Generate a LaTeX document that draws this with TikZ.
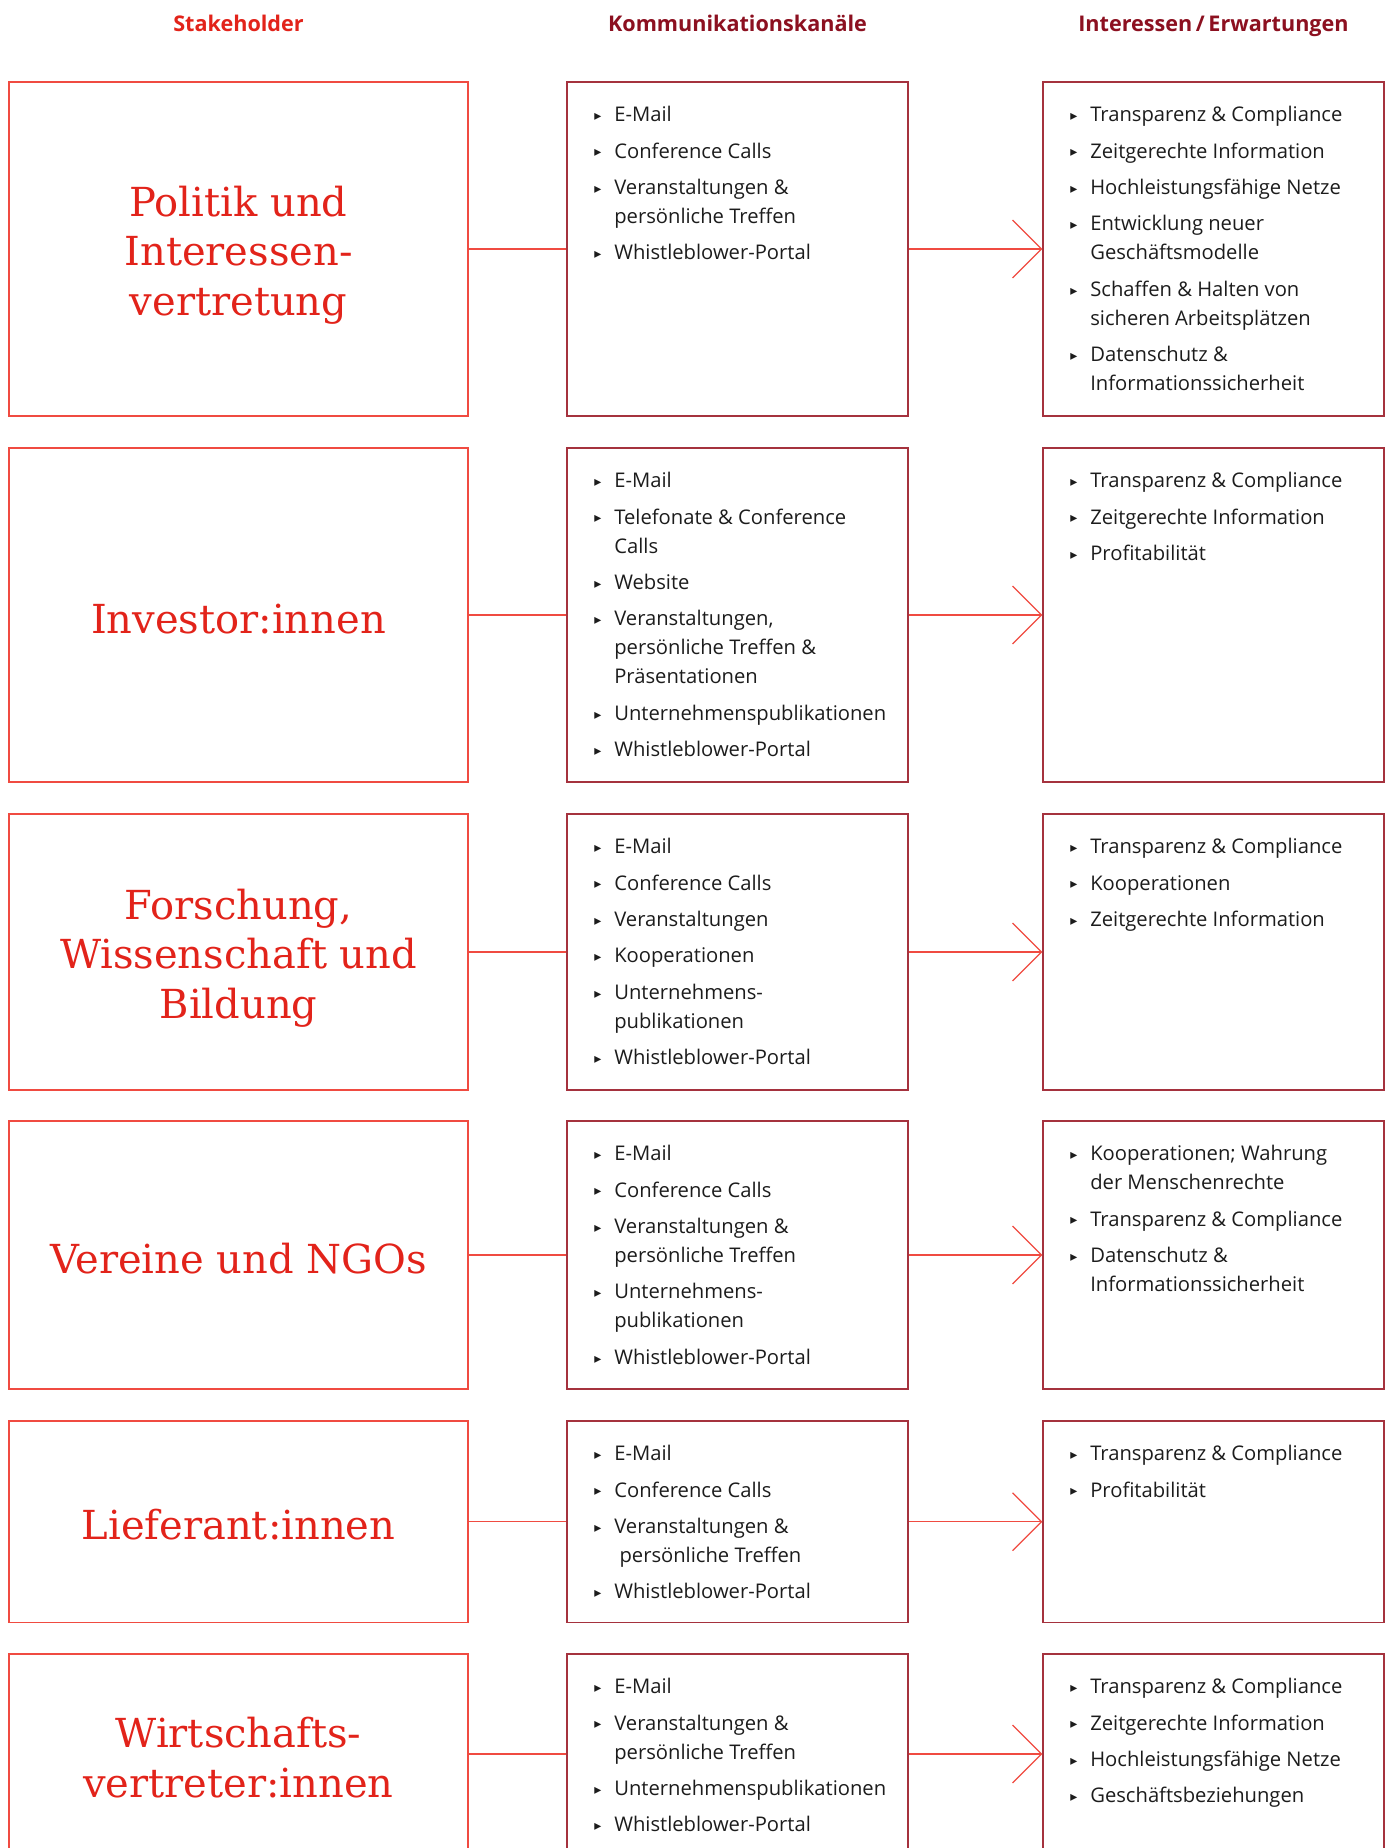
\documentclass[tikz,border=0pt]{standalone}
\usepackage{fontspec}
\setmainfont{Open Sans}
\newfontfamily\slabfont{DejaVu Serif}
\newfontfamily\symfont{DejaVu Sans}
\usetikzlibrary{positioning,arrows.meta}
\definecolor{StakeRed}{RGB}{226,35,26}
\definecolor{LineRed}{RGB}{240,75,65}
\definecolor{BoxRed}{RGB}{165,50,62}
\definecolor{HeadRed}{RGB}{140,16,32}
\definecolor{TextGrey}{RGB}{28,28,28}
\newcommand{\blt}{\llap{{\symfont\fontsize{7}{7}\selectfont\raisebox{0.6pt}{▸}}\hspace{6.5pt}}}

\begin{document}
\begin{tikzpicture}[x=0.5pt, y=-0.5pt,
  head/.style={anchor=base, font=\bfseries\fontsize{10.8}{12}\selectfont},
  stakebox/.style={draw=LineRed, line width=0.6pt, minimum width=229.5pt, inner sep=0pt},
  stakename/.style={align=center, inner sep=0pt, text=StakeRed, font=\slabfont\fontsize{20}{24.8}\selectfont},
  chanbox/.style={draw=BoxRed, line width=0.6pt, minimum width=170.5pt, inner sep=0pt},
  listtext/.style={align=left, inner sep=0pt, text=TextGrey, font=\fontsize{10.1}{14.5}\selectfont},
  link/.style={LineRed, line width=0.6pt},
  arr/.style={link, -{Straight Barb[length=14.5pt, width=29pt]}}]
  \useasboundingbox (0,0) rectangle (1391,1848);

  % Headers
  \node[head, text=StakeRed] (h1) at (238.5,31.5) {Stakeholder};
  \node[head, text=HeadRed] (h2) at (737.5,31.5) {Kommunikationskanäle};
  \node[head, text=HeadRed] (h3) at (1213.5,31.5) {Interessen\,/\,Erwartungen};

  % Politik
  \node[stakebox, minimum height=167pt] (s1) at (238.5,249) {};
  \node[stakename, yshift=-3pt] (s1n) at (s1.center) {Politik und\\Interessen-\\vertretung};
  \node[chanbox, minimum height=167pt] (k1) at (737.5,249) {};
  \node[chanbox, minimum height=167pt] (e1) at (1213.5,249) {};
  \node[listtext, below right=9.8pt and 23.75pt of k1.north west] (k1t)
    {\strut\blt E-Mail\\[3.7pt]\blt Conference Calls\\[3.7pt]\blt Veranstaltungen \&\\persönliche Treffen\\[3.7pt]\blt Whistleblower-Portal};
  \node[listtext, below right=9.8pt and 23.75pt of e1.north west] (e1t)
    {\strut\blt Transparenz \& Compliance\\[3.7pt]\blt Zeitgerechte Information\\[3.7pt]\blt Hochleistungsfähige Netze\\[3.7pt]\blt Entwicklung neuer\\Geschäftsmodelle\\[3.7pt]\blt Schaffen \& Halten von\\sicheren Arbeitsplätzen\\[3.7pt]\blt Datenschutz \&\\Informationssicherheit};
  \draw[link] (s1) -- (k1);
  \draw[arr] (k1) -- (e1);

  % Investoren
  \node[stakebox, minimum height=167pt] (s2) at (238.5,615) {};
  \node[stakename, yshift=-1.8pt] (s2n) at (s2.center) {Investor:innen};
  \node[chanbox, minimum height=167pt] (k2) at (737.5,615) {};
  \node[chanbox, minimum height=167pt] (e2) at (1213.5,615) {};
  \node[listtext, below right=9.8pt and 23.75pt of k2.north west] (k2t)
    {\strut\blt E-Mail\\[3.7pt]\blt Telefonate \& Conference\\Calls\\[3.7pt]\blt Website\\[3.7pt]\blt Veranstaltungen,\\persönliche Treffen \&\\Präsentationen\\[3.7pt]\blt Unternehmenspublikationen\\[3.7pt]\blt Whistleblower-Portal};
  \node[listtext, below right=9.8pt and 23.75pt of e2.north west] (e2t)
    {\strut\blt Transparenz \& Compliance\\[3.7pt]\blt Zeitgerechte Information\\[3.7pt]\blt Profitabilität};
  \draw[link] (s2) -- (k2);
  \draw[arr] (k2) -- (e2);

  % Forschung
  \node[stakebox, minimum height=138pt] (s3) at (238.5,952) {};
  \node[stakename, yshift=-3pt] (s3n) at (s3.center) {Forschung,\\Wissenschaft und\\Bildung};
  \node[chanbox, minimum height=138pt] (k3) at (737.5,952) {};
  \node[chanbox, minimum height=138pt] (e3) at (1213.5,952) {};
  \node[listtext, below right=9.8pt and 23.75pt of k3.north west] (k3t)
    {\strut\blt E-Mail\\[3.7pt]\blt Conference Calls\\[3.7pt]\blt Veranstaltungen\\[3.7pt]\blt Kooperationen\\[3.7pt]\blt Unternehmens-\\publikationen\\[3.7pt]\blt Whistleblower-Portal};
  \node[listtext, below right=9.8pt and 23.75pt of e3.north west] (e3t)
    {\strut\blt Transparenz \& Compliance\\[3.7pt]\blt Kooperationen\\[3.7pt]\blt Zeitgerechte Information};
  \draw[link] (s3) -- (k3);
  \draw[arr] (k3) -- (e3);

  % Vereine
  \node[stakebox, minimum height=134pt] (s4) at (238.5,1255) {};
  \node[stakename, yshift=-1.8pt] (s4n) at (s4.center) {Vereine und NGOs};
  \node[chanbox, minimum height=134pt] (k4) at (737.5,1255) {};
  \node[chanbox, minimum height=134pt] (e4) at (1213.5,1255) {};
  \node[listtext, below right=9.8pt and 23.75pt of k4.north west] (k4t)
    {\strut\blt E-Mail\\[3.7pt]\blt Conference Calls\\[3.7pt]\blt Veranstaltungen \&\\persönliche Treffen\\[3.7pt]\blt Unternehmens-\\publikationen\\[3.7pt]\blt Whistleblower-Portal};
  \node[listtext, below right=9.8pt and 23.75pt of e4.north west] (e4t)
    {\strut\blt Kooperationen; Wahrung\\der Menschenrechte\\[3.7pt]\blt Transparenz \& Compliance\\[3.7pt]\blt Datenschutz \&\\Informationssicherheit};
  \draw[link] (s4) -- (k4);
  \draw[arr] (k4) -- (e4);

  % Lieferanten
  \node[stakebox, minimum height=100.75pt] (s5) at (238.5,1521.75) {};
  \node[stakename, yshift=-1.2pt] (s5n) at (s5.center) {Lieferant:innen};
  \node[chanbox, minimum height=100.75pt] (k5) at (737.5,1521.75) {};
  \node[chanbox, minimum height=100.75pt] (e5) at (1213.5,1521.75) {};
  \node[listtext, below right=9.8pt and 23.75pt of k5.north west] (k5t)
    {\strut\blt E-Mail\\[3.7pt]\blt Conference Calls\\[3.7pt]\blt Veranstaltungen \&\\\ persönliche Treffen\\[3.7pt]\blt Whistleblower-Portal};
  \node[listtext, below right=9.8pt and 23.75pt of e5.north west] (e5t)
    {\strut\blt Transparenz \& Compliance\\[3.7pt]\blt Profitabilität};
  \draw[link] (s5) -- (k5);
  \draw[arr] (k5) -- (e5);

  % Wirtschaft
  \node[stakebox, minimum height=100pt] (s6) at (238.5,1754) {};
  \node[stakename, yshift=-1.8pt] (s6n) at (s6.center) {Wirtschafts-\\vertreter:innen};
  \node[chanbox, minimum height=100pt] (k6) at (737.5,1754) {};
  \node[chanbox, minimum height=100pt] (e6) at (1213.5,1754) {};
  \node[listtext, below right=9.8pt and 23.75pt of k6.north west] (k6t)
    {\strut\blt E-Mail\\[3.7pt]\blt Veranstaltungen \&\\persönliche Treffen\\[3.7pt]\blt Unternehmenspublikationen\\[3.7pt]\blt Whistleblower-Portal};
  \node[listtext, below right=9.8pt and 23.75pt of e6.north west] (e6t)
    {\strut\blt Transparenz \& Compliance\\[3.7pt]\blt Zeitgerechte Information\\[3.7pt]\blt Hochleistungsfähige Netze\\[3.7pt]\blt Geschäftsbeziehungen};
  \draw[link] (s6) -- (k6);
  \draw[arr] (k6) -- (e6);
\end{tikzpicture}
\end{document}
